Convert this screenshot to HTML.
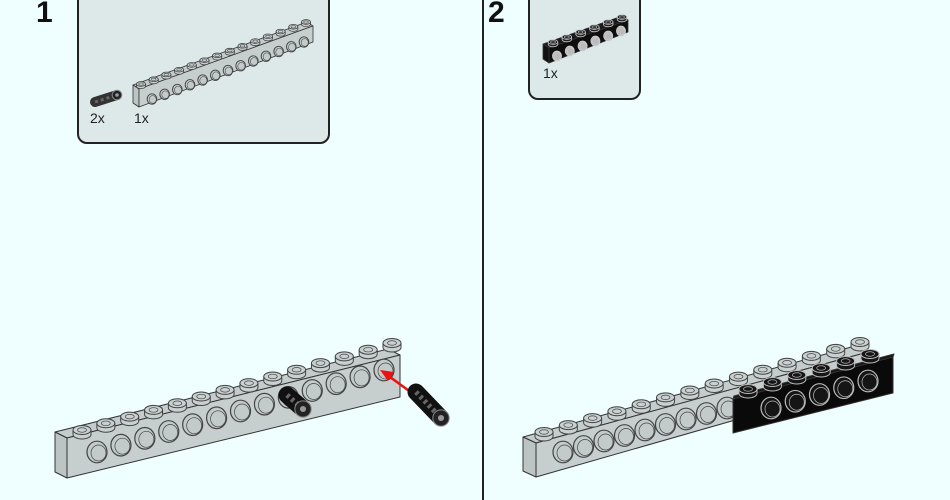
<!DOCTYPE html>
<html><head><meta charset="utf-8"><style>
html,body{margin:0;padding:0;background:#effefe;width:950px;height:500px;overflow:hidden}
svg{display:block}
text{font-family:"Liberation Sans",sans-serif}
</style></head><body>
<svg id="s" width="950" height="500" viewBox="0 0 950 500" xmlns="http://www.w3.org/2000/svg">
<rect width="950" height="500" fill="#effefe"/>
<line x1="483" y1="0" x2="483" y2="500" stroke="#222" stroke-width="2"/>
<text x="36" y="22" font-size="30" font-weight="bold" fill="#111">1</text>
<text x="488" y="22" font-size="30" font-weight="bold" fill="#111">2</text>
<rect x="78" y="-10" width="251" height="153" rx="9" fill="#dde9e9" stroke="#222" stroke-width="2"/>
<rect x="529" y="-10" width="111" height="109" rx="9" fill="#dde9e9" stroke="#222" stroke-width="2"/>
<text x="90" y="123" font-size="14" fill="#222">2x</text>
<text x="134" y="123" font-size="14" fill="#222">1x</text>
<text x="543" y="78" font-size="14" fill="#222">1x</text>
<g id="g"></g>
</svg>
<script>
var g=document.getElementById('g'),NS='http://www.w3.org/2000/svg';
function el(t,a){var e=document.createElementNS(NS,t);for(var k in a)e.setAttribute(k,a[k]);g.appendChild(e);return e}
function poly(p,f,sw){el('polygon',{points:p.map(function(q){return q.join(',')}).join(' '),fill:f,stroke:'#333','stroke-width':sw||1,'stroke-linejoin':'round'})}
function beam(o){
 var c=o.c,sw=o.sw||1;
 poly([[o.a[0]-o.e[0],o.a[1]-o.e[1]],[o.b[0]-o.e[0],o.b[1]-o.e[1]],o.b,o.a],o.top,sw);
 poly([[o.a[0]-o.e[0],o.a[1]-o.e[1]],o.a,[o.a[0],o.a[1]+o.h],[o.a[0]-o.e[0],o.a[1]+o.h-o.e[1]]],o.end,sw);
 poly([o.a,o.b,[o.b[0],o.b[1]+o.h2],[o.a[0],o.a[1]+o.h]],c,sw);
 for(var i=0;i<o.m;i++){var t=o.m>1?i/(o.m-1):0;var x=o.h0[0]+(o.h1[0]-o.h0[0])*t,y=o.h0[1]+(o.h1[1]-o.h0[1])*t;
  el('ellipse',{cx:x,cy:y,rx:o.hr,ry:o.hr*1.08,fill:o.hf,stroke:o.hs,'stroke-width':sw*1.2});
  el('ellipse',{cx:x+o.hr*0.15,cy:y+o.hr*0.1,rx:o.hr*0.75,ry:o.hr*0.8,fill:'none',stroke:o.hs,'stroke-width':sw*0.7});}
 for(var i=0;i<o.n;i++){var t=i/(o.n-1);var x=o.s0[0]+(o.s1[0]-o.s0[0])*t,y=o.s0[1]+(o.s1[1]-o.s0[1])*t;
  el('path',{d:'M'+(x-o.sr)+','+y+' v'+(o.sr*0.5)+' a'+o.sr+','+(o.sr*0.5)+' 0 0 0 '+(2*o.sr)+',0 v-'+(o.sr*0.5),fill:o.sf,stroke:o.hs,'stroke-width':sw});
  el('ellipse',{cx:x,cy:y,rx:o.sr,ry:o.sr*0.5,fill:o.sf,stroke:o.hs,'stroke-width':sw});
  el('ellipse',{cx:x,cy:y,rx:o.sr*0.5,ry:o.sr*0.25,fill:'none',stroke:o.hs,'stroke-width':sw*0.7});}
}
function pin(x1,y1,x2,y2,w,col){
 el('line',{x1:x1,y1:y1,x2:x2,y2:y2,stroke:col||'#111','stroke-width':w,'stroke-linecap':'round'});
 el('line',{x1:x1,y1:y1,x2:x2,y2:y2,stroke:'#666','stroke-width':w*0.3,'stroke-dasharray':'3 3'});
 el('ellipse',{cx:x2,cy:y2,rx:w*0.48,ry:w*0.48,fill:'#222',stroke:'#888','stroke-width':1});
 el('circle',{cx:x2,cy:y2,r:w*0.18,fill:'#999'});
}
var G={top:'#c4cccc',end:'#bcc4c4',c:'#c6cece',hf:'#c2caca',hs:'#444',sf:'#c8d0d0'};
function m(a,b){for(var k in b)a[k]=b[k];return a}
// callout beam 1
beam(m({a:[139,89],b:[313,26],e:[6,4],h:18,h2:16,n:14,s0:[141,84],s1:[306,22],sr:4.6,m:13,h0:[152,99],h1:[304,42],hr:4.8,sw:0.8},G));
pin(95,102,117,95,10,'#333');
// callout beam 2
beam({a:[549,48],b:[628,20],e:[6,4],h:15,h2:12,n:6,s0:[553,42],s1:[622,17],sr:4.8,m:6,h0:[557,56],h1:[621,31],hr:4.5,sw:0.8,top:'#1a1a1a',end:'#111',c:'#0e0e0e',hf:'#bbb',hs:'#ccc',sf:'#222'});
// main left beam
beam(m({a:[67,438],b:[400,355],e:[12,6],h:40,h2:42,n:14,s0:[82,430],s1:[392,343],sr:9,m:13,h0:[97,452],h1:[384,370],hr:10},G));
pin(287,395,303,409,17);
// arrow
el('line',{x1:412,y1:393,x2:390,y2:377,stroke:'#e11','stroke-width':2.5});
el('polygon',{points:'380,370 394,372 388,381',fill:'#e11'});
pin(416,392,441,418,17);
// main right beam
beam(m({a:[536,443],b:[868,352],e:[13,6],h:34,h2:30,n:14,s0:[544,432],s1:[860,342],sr:9,m:9,h0:[563,452],h1:[727,408],hr:10},G));
// black beam
beam({a:[733,399],b:[893,357],e:[-1,3],h:34,h2:36,n:6,s0:[748,389],s1:[870,354],sr:9,m:5,h0:[771,408],h1:[868,381],hr:10,top:'#151515',end:'#0a0a0a',c:'#0a0a0a',hf:'#151515',hs:'#bbb',sf:'#151515'});
</script>
</body></html>
